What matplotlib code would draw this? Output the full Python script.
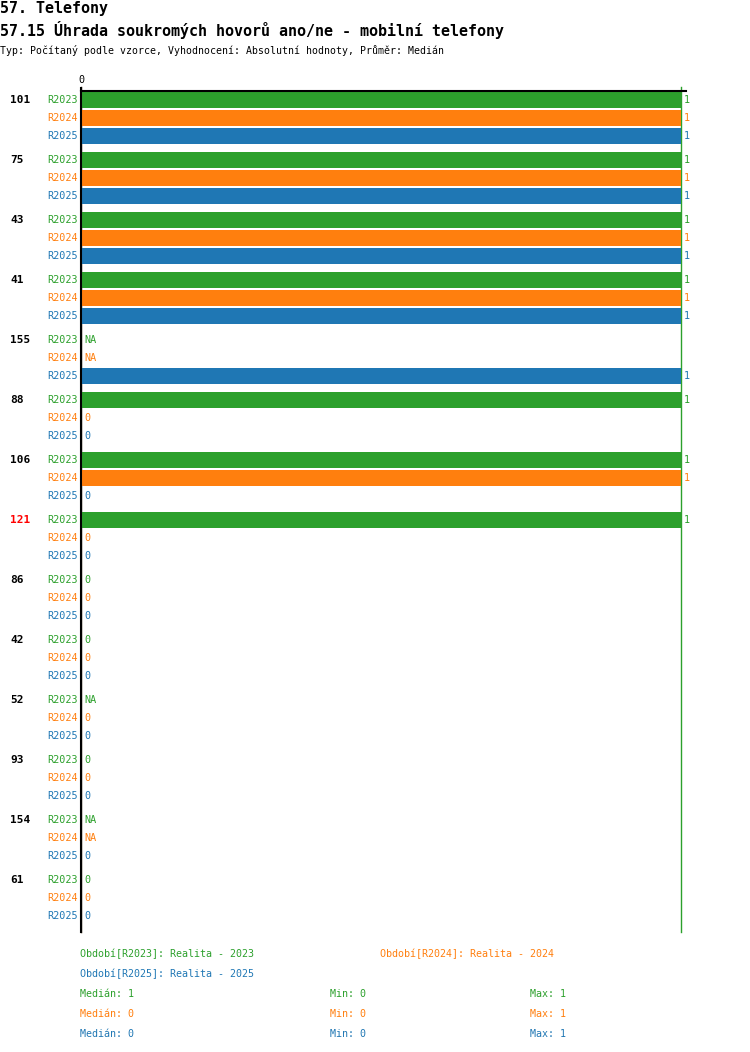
import numpy as np
import matplotlib
matplotlib.use("Agg")
import matplotlib.pyplot as plt
import matplotlib.transforms as mtransforms

plt.rcParams['font.family'] = ['DejaVu Sans Mono', 'DejaVu Sans']

# ---- data ----
groups = ["101", "75", "43", "41", "155", "88", "106", "121", "86", "42", "52", "93", "154", "61"]
group_colors = ["black"] * 7 + ["red"] + ["black"] * 6
series = ["R2023", "R2024", "R2025"]
series_colors = ["#2ca02c", "#ff7f0e", "#1f77b4"]
series_desc = ["Realita - 2023", "Realita - 2024", "Realita - 2025"]
NA = None
r2023 = [1, 1, 1, 1, NA, 1, 1, 1, 0, 0, NA, 0, NA, 0]
r2024 = [1, 1, 1, 1, NA, 0, 1, 0, 0, 0, 0, 0, NA, 0]
r2025 = [1, 1, 1, 1, 1, 0, 0, 0, 0, 0, 0, 0, 0, 0]
values = [r2023, r2024, r2025]

W, H = 750, 1052
fig = plt.figure(figsize=(W / 100, H / 100), dpi=100)

# axes placement in pixels
ax_left, ax_right, ax_top, ax_bottom = 81, 686, 91, 932
ax = fig.add_axes([ax_left / W, 1 - ax_bottom / H, (ax_right - ax_left) / W, (ax_bottom - ax_top) / H])

row_px = 18.0
group_px = 60.0
first_row_px = 100.0

def ypos(g, k):
    return (g * group_px + k * row_px) / row_px

ylim_top = (ax_top - first_row_px) / row_px
ylim_bottom = (ax_bottom - first_row_px) / row_px
ax.set_ylim(ylim_bottom, ylim_top)
ax.set_xlim(0, (ax_right - ax_left) / 600.0)

for k, (vals, col) in enumerate(zip(values, series_colors)):
    ys = [ypos(g, k) for g in range(len(groups))]
    xs = [0 if v is None else v for v in vals]
    ax.barh(ys, xs, height=16 / 18, color=col, left=0, linewidth=0, zorder=2)

off = mtransforms.offset_copy(ax.transData, fig=fig, x=3, y=0, units='dots')
lab_tr = mtransforms.offset_copy(
    mtransforms.blended_transform_factory(ax.transAxes, ax.transData), fig=fig, x=-3, y=0, units='dots')
grp_tr = mtransforms.blended_transform_factory(fig.transFigure, ax.transData)

for g, name in enumerate(groups):
    ax.text(10 / W, ypos(g, 0), name, transform=grp_tr, ha='left', va='center',
            fontsize=8, fontweight='bold', color=group_colors[g])
    for k in range(3):
        v = values[k][g]
        y = ypos(g, k)
        col = series_colors[k]
        ax.text(0, y, series[k], transform=lab_tr, ha='right', va='center', fontsize=7.3, color=col)
        txt = "NA" if v is None else f"{v:g}"
        ax.text(0 if v is None else v, y, txt, transform=off, ha='left', va='center',
                fontsize=7.3, color=col, clip_on=False)

# stats
stats = []
for vals in values:
    arr = np.array([v for v in vals if v is not None], dtype=float)
    stats.append((np.median(arr), arr.min(), arr.max()))

# median lines
for k in range(3):
    ax.plot([stats[k][0]] * 2, [ylim_bottom, (87 - first_row_px) / row_px], color=series_colors[k],
            lw=1, clip_on=False, zorder=1)

# spines and ticks
for s in ['right', 'bottom']:
    ax.spines[s].set_visible(False)
ax.spines['left'].set_linewidth(1.5)
ax.spines['top'].set_linewidth(1.5)
ax.spines['left'].set_zorder(5)
ax.xaxis.tick_top()
ax.set_xticks([0])
ax.set_xticklabels(["0"])
ax.tick_params(axis='x', length=3, width=1.5, pad=1, labelsize=7.3)
ax.set_yticks([])
ax.patch.set_alpha(0)

# titles
def ftext(px, py, s, **kw):
    fig.text(px / W, 1 - py / H, s, va='center', ha='left', **kw)

ftext(0, 8, "57. Telefony", fontsize=10.8, fontweight='bold')
ftext(0, 30, "57.15 Úhrada soukromých hovorů ano/ne - mobilní telefony", fontsize=10.8, fontweight='bold')
ftext(0, 50, "Typ: Počítaný podle vzorce, Vyhodnocení: Absolutní hodnoty, Průměr: Medián", fontsize=7.1)

# legend
leg_pos = [(80, 954), (380, 954), (80, 974)]
for k in range(3):
    ftext(leg_pos[k][0], leg_pos[k][1], f"Období[{series[k]}]: {series_desc[k]}", fontsize=7.2, color=series_colors[k])
for k in range(3):
    py = 994 + 20 * k
    med, mn, mx = stats[k]
    ftext(80, py, f"Medián: {med:g}", fontsize=7.2, color=series_colors[k])
    ftext(330, py, f"Min: {mn:g}", fontsize=7.2, color=series_colors[k])
    ftext(530, py, f"Max: {mx:g}", fontsize=7.2, color=series_colors[k])

fig.savefig("out.png", dpi=100, facecolor='white')
